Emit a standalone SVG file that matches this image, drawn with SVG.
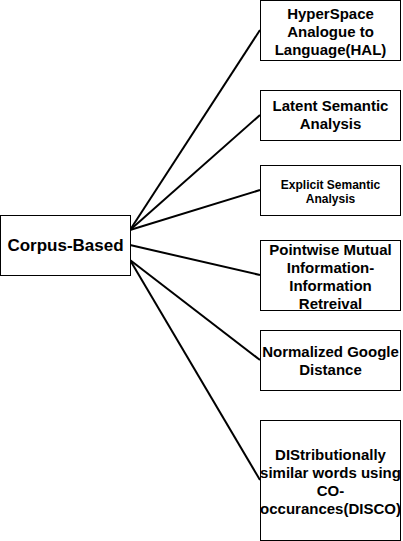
<svg xmlns="http://www.w3.org/2000/svg" width="403" height="541" viewBox="0 0 403 541">
<style>
.box{fill:#fff;stroke:#000;stroke-width:1}
.t{font-family:"Liberation Sans",Arial,sans-serif;font-weight:bold;font-size:15px;text-anchor:middle;fill:#000}
.c{stroke:#000;stroke-width:2;fill:none}
</style>
<rect width="403" height="541" fill="#fff"/>
<g id="connectors">
<line class="c" x1="130" y1="230" x2="260" y2="30"/>
<line class="c" x1="130" y1="230" x2="260" y2="115"/>
<line class="c" x1="130" y1="230" x2="260" y2="190"/>
<line class="c" x1="130" y1="245" x2="260" y2="275"/>
<line class="c" x1="130" y1="260" x2="260" y2="360"/>
<line class="c" x1="130" y1="260" x2="260" y2="480"/>
</g>
<g id="corpus">
<rect class="box" x="0.5" y="215.5" width="130" height="60"/>
<text class="t" x="65.5" y="251" style="font-size:17px">Corpus-Based</text>
</g>
<g id="hal">
<rect class="box" x="260.5" y="0.5" width="140" height="60"/>
<text class="t" x="330.5" y="19">HyperSpace</text>
<text class="t" x="330.5" y="37">Analogue to</text>
<text class="t" x="330.5" y="55">Language(HAL)</text>
</g>
<g id="lsa">
<rect class="box" x="260.5" y="90.5" width="140" height="50"/>
<text class="t" x="330.5" y="111">Latent Semantic</text>
<text class="t" x="330.5" y="129">Analysis</text>
</g>
<g id="esa">
<rect class="box" x="260.5" y="165.5" width="140" height="50"/>
<text class="t" x="330.5" y="189" style="font-size:12px">Explicit Semantic</text>
<text class="t" x="330.5" y="203" style="font-size:12px">Analysis</text>
</g>
<g id="pmi">
<rect class="box" x="260.5" y="240.5" width="140" height="70"/>
<text class="t" x="330.5" y="255">Pointwise Mutual</text>
<text class="t" x="330.5" y="273">Information-</text>
<text class="t" x="330.5" y="291">Information</text>
<text class="t" x="330.5" y="309">Retreival</text>
</g>
<g id="ngd">
<rect class="box" x="260.5" y="330.5" width="140" height="60"/>
<text class="t" x="330.5" y="357">Normalized Google</text>
<text class="t" x="330.5" y="375">Distance</text>
</g>
<g id="disco">
<rect class="box" x="260.5" y="420.5" width="140" height="120"/>
<text class="t" x="330.5" y="460">DIStributionally</text>
<text class="t" x="330.5" y="478">similar words using</text>
<text class="t" x="330.5" y="496">CO-</text>
<text class="t" x="330.5" y="514">occurances(DISCO)</text>
</g>
</svg>
